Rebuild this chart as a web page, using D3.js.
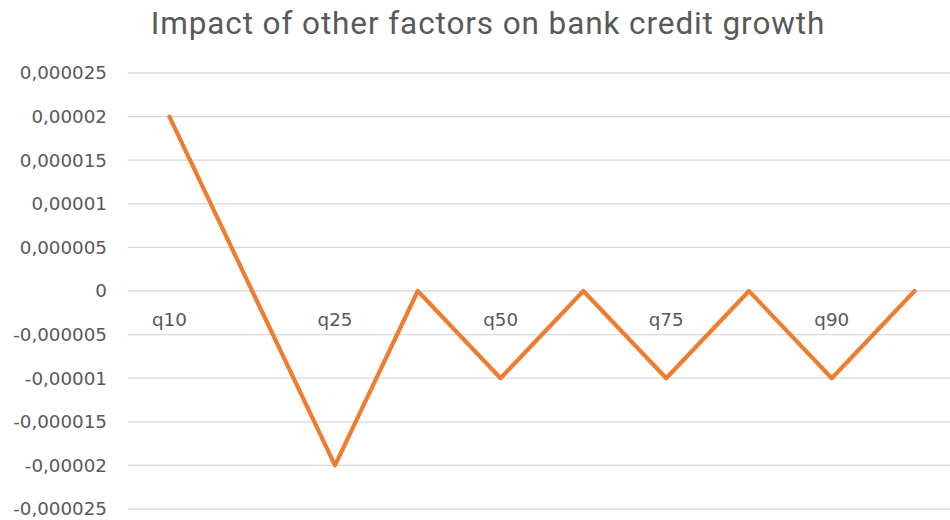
<!DOCTYPE html>
<html>
<head>
<meta charset="utf-8">
<script src="https://cdn.jsdelivr.net/npm/d3@7"></script>
<style>
  html, body { margin: 0; padding: 0; background: #fff; }
  svg { display: block; }
</style>
</head>
<body>
<svg id="chart" width="950" height="520"></svg>
<script>
const title = "Impact of other factors on bank credit growth";
const categories = ["q10", "", "q25", "", "q50", "", "q75", "", "q90", ""];
const values = [0.00002, 0, -0.00002, 0, -0.00001, 0, -0.00001, 0, -0.00001, 0];
const yTicks = [0.000025, 0.00002, 0.000015, 0.00001, 0.000005, 0, -0.000005, -0.00001, -0.000015, -0.00002, -0.000025];
const yTickLabels = ["0,000025", "0,00002", "0,000015", "0,00001", "0,000005", "0", "-0,000005", "-0,00001", "-0,000015", "-0,00002", "-0,000025"];

const svg = d3.select("#chart");
const plotLeft = 128, plotRight = 956, plotTop = 73, plotBottom = 509;

const x = d3.scaleBand().domain(d3.range(categories.length)).range([plotLeft, plotRight]);
const y = d3.scaleLinear().domain([-0.000025, 0.000025]).range([plotBottom, plotTop]);

svg.append("text")
  .attr("x", 488).attr("y", 34)
  .attr("text-anchor", "middle")
  .attr("font-family", "Roboto, sans-serif")
  .attr("font-size", 31.5)
  .attr("letter-spacing", 0.9)
  .attr("fill", "#595959")
  .text(title);

// gridlines
svg.append("g").selectAll("line").data(yTicks).join("line")
  .attr("x1", plotLeft).attr("x2", plotRight)
  .attr("y1", d => y(d)).attr("y2", d => y(d))
  .attr("stroke", "#d9d9d9").attr("stroke-width", 1.3);

// y axis labels
const yAxis = d3.axisLeft(y).tickValues(yTicks)
  .tickFormat((d, i) => yTickLabels[i]).tickSize(0).tickPadding(0);
const gy = svg.append("g").attr("transform", `translate(107,0)`).call(yAxis);
gy.select(".domain").remove();
gy.selectAll("text")
  .attr("font-family", "DejaVu Sans, sans-serif")
  .attr("font-size", 18.3)
  .attr("fill", "#595959");

// category labels
const xAxis = d3.axisBottom(x).tickFormat((d, i) => categories[i]).tickSize(0).tickPadding(0);
const gx = svg.append("g").attr("transform", `translate(0,${y(0) + 22})`).call(xAxis);
gx.select(".domain").remove();
gx.selectAll("text")
  .attr("font-family", "DejaVu Sans, sans-serif")
  .attr("font-size", 18.3)
  .attr("fill", "#595959")
  .attr("dy", "0.71em");

// line
const line = d3.line()
  .x((d, i) => x(i) + x.bandwidth() / 2)
  .y(d => y(d));
svg.append("path")
  .datum(values)
  .attr("d", line)
  .attr("fill", "none")
  .attr("stroke", "#ED7D31")
  .attr("stroke-width", 4.2)
  .attr("stroke-linejoin", "round")
  .attr("stroke-linecap", "round");
</script>
</body>
</html>
